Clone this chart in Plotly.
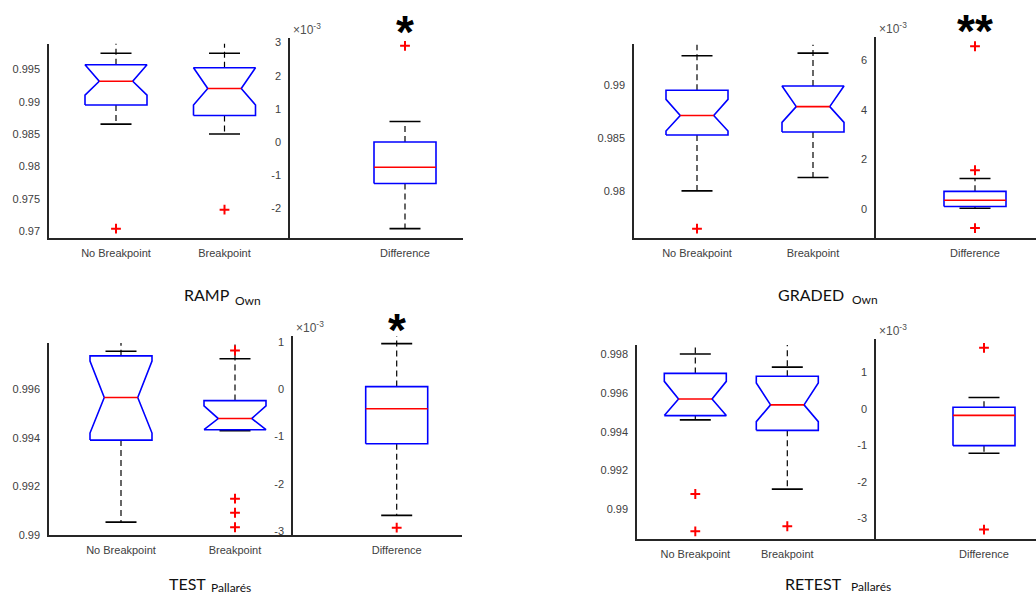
import plotly.graph_objects as go

W, H = 1036, 606

# ---- data -------------------------------------------------------------
panel_titles = ["RAMP", "GRADED", "TEST", "RETEST"]
panel_subtitles = ["Own", "Own", "Pallarés", "Pallarés"]
significance = ["*", "**", "*", ""]

categories = ["No Breakpoint", "Breakpoint"]
diff_category = "Difference"

# No Breakpoint: quartiles, adjacent values, notch limits, outliers
nobp_q1 = [0.98950, 0.98531, 0.99391, 0.99483]
nobp_med = [0.99317, 0.98716, 0.99567, 0.99568]
nobp_q3 = [0.99572, 0.98956, 0.99739, 0.99700]
nobp_lo = [0.98654, 0.98000, 0.99052, 0.99461]
nobp_hi = [0.99749, 0.99283, 0.99758, 0.99800]
nobp_notch_lo = [0.99102, 0.98568, 0.99420, 0.99483]
nobp_notch_hi = [0.99572, 0.98869, 0.99717, 0.99659]
nobp_out = [[0.97037], [0.97641], [], [0.99080, 0.98888]]

# Breakpoint
bp_q1 = [0.98786, 0.98559, 0.99434, 0.99407]
bp_med = [0.99205, 0.98800, 0.99480, 0.99538]
bp_q3 = [0.99526, 0.98996, 0.99554, 0.99685]
bp_lo = [0.98500, 0.98127, 0.99430, 0.99105]
bp_hi = [0.99749, 0.99308, 0.99727, 0.99732]
bp_notch_lo = [0.98950, 0.98650, 0.99434, 0.99452]
bp_notch_hi = [0.99526, 0.98996, 0.99532, 0.99651]
bp_out = [[0.97332], [], [0.99761, 0.99149, 0.99091, 0.99031], [0.98914]]

# Difference (units of 1e-3)
diff_q1 = [-1.25, 0.11, -1.15, -1.00]
diff_med = [-0.76, 0.36, -0.41, -0.17]
diff_q3 = [0.00, 0.72, 0.06, 0.05]
diff_lo = [-2.61, 0.04, -2.67, -1.21]
diff_hi = [0.62, 1.24, 0.97, 0.32]
diff_out = [[2.90], [6.57, 1.57, -0.76], [-2.93], [1.68, -3.30]]

# upper whisker continues past the cap to the axis limit (NB, BP, Diff)
tail_past_top = [[True, True, False], [True, True, False],
                 [True, True, True], [True, True, False]]

# y tick values per panel
left_ticks = [[0.97, 0.975, 0.98, 0.985, 0.99, 0.995],
              [0.98, 0.985, 0.99],
              [0.99, 0.992, 0.994, 0.996],
              [0.99, 0.992, 0.994, 0.996, 0.998]]
left_ticktext = [["0.97", "0.975", "0.98", "0.985", "0.99", "0.995"],
                 ["0.98", "0.985", "0.99"],
                 ["0.99", "0.992", "0.994", "0.996"],
                 ["0.99", "0.992", "0.994", "0.996", "0.998"]]
diff_ticks = [[-2, -1, 0, 1, 2, 3], [0, 2, 4, 6], [-3, -2, -1, 0, 1], [-3, -2, -1, 0, 1]]

# ---- layout geometry (pixels) -------------------------------------------
left_dom_x = [(49, 290), (634, 876), (49, 293), (637, 876)]
diff_dom_x = [(290, 463), (876, 1036), (293, 462), (876, 1036)]
left_dom_y = [(43, 240), (44, 240), (346, 540), (348, 544)]
diff_dom_y = [(37, 240), (36, 240), (339, 540), (342, 544)]
left_centers = [(116, 224.5), (697, 813), (121, 235), (695.3, 787.3)]
diff_centers = [405, 975, 396.7, 984]
left_yrange = [(0.9689, 0.9990), (0.9755, 0.9939), (0.9900, 0.99792), (0.9885, 0.99846)]
diff_yrange = [(-2.9, 3.15), (-1.17, 6.96), (-3.08, 1.13), (-3.55, 1.92)]

BOX_HALF_PX = 31
NOTCH_FRAC = 0.54
BLUE, RED, BLACK = "#0000ff", "#ff0000", "#000000"
AXIS_COLOR = "#262626"
TICK_COLOR = "#404040"
TICK_FONT = dict(family="Liberation Sans, Arial, sans-serif", size=11, color=TICK_COLOR)

fig = go.Figure()
layout = dict(width=W, height=H, margin=dict(l=0, r=0, t=0, b=0),
              paper_bgcolor="white", plot_bgcolor="white", showlegend=False)


def px_dom_x(d):
    return [d[0] / W, d[1] / W]


def px_dom_y(d):
    return [1 - d[1] / H, 1 - d[0] / H]


def line(xr, yr, xs, ys, color, width=1.5, dash="solid"):
    fig.add_trace(go.Scatter(x=xs, y=ys, mode="lines", xaxis=xr, yaxis=yr,
                             line=dict(color=color, width=width, dash=dash),
                             hoverinfo="skip"))


def draw_box(xr, yr, xc, hw, q1, med, q3, lo, hi, outs, top_end,
             nlo=None, nhi=None):
    dash = "6px,4px"
    # whiskers
    line(xr, yr, [xc, xc], [q3, top_end], BLACK, 1.2, dash)
    line(xr, yr, [xc, xc], [q1, lo], BLACK, 1.2, dash)
    # caps
    cw = hw / 2
    line(xr, yr, [xc - cw, xc + cw], [hi, hi], BLACK, 1.6)
    line(xr, yr, [xc - cw, xc + cw], [lo, lo], BLACK, 1.6)
    # box outline
    if nlo is None:
        xs = [xc - hw, xc + hw, xc + hw, xc - hw, xc - hw]
        ys = [q1, q1, q3, q3, q1]
        mw = hw
    else:
        mw = hw * NOTCH_FRAC
        xs = [xc - hw, xc - hw, xc - mw, xc - hw, xc - hw,
              xc + hw, xc + hw, xc + mw, xc + hw, xc + hw, xc - hw]
        ys = [q1, nlo, med, nhi, q3, q3, nhi, med, nlo, q1, q1]
    line(xr, yr, xs, ys, BLUE, 1.6)
    # median
    line(xr, yr, [xc - mw, xc + mw], [med, med], RED, 1.6)
    # outliers
    if outs:
        fig.add_trace(go.Scatter(x=[xc] * len(outs), y=outs, mode="markers",
                                 xaxis=xr, yaxis=yr, hoverinfo="skip",
                                 marker=dict(symbol="cross-thin", size=7, color=RED,
                                             line=dict(color=RED, width=2))))


annotations = []

for i in range(4):
    nL, nD = 2 * i + 1, 2 * i + 2
    kL = "" if nL == 1 else str(nL)
    kD = str(nD)
    xrL, yrL, xrD, yrD = "x" + kL, "y" + kL, "x" + kD, "y" + kD

    # x ranges from pixel geometry
    c1, c2 = left_centers[i]
    ppu = c2 - c1
    a, b = left_dom_x[i]
    xrangeL = [1 - (c1 - a) / ppu, 1 + (b - c1) / ppu]
    cd = diff_centers[i]
    a2, b2 = diff_dom_x[i]
    xrangeD = [1 - (cd - a2) / ppu, 1 + (b2 - cd) / ppu]
    hw = BOX_HALF_PX / ppu

    common_x = dict(showline=True, linecolor=AXIS_COLOR, linewidth=1.5, ticks="",
                    showgrid=False, zeroline=False, tickfont=TICK_FONT,
                    fixedrange=True, ticklabelstandoff=4)
    common_y = dict(showline=True, linecolor=AXIS_COLOR, linewidth=1.5, ticks="",
                    showgrid=False, zeroline=False, tickfont=TICK_FONT,
                    fixedrange=True, ticklabelstandoff=5)

    layout["xaxis" + kL] = dict(domain=px_dom_x(left_dom_x[i]), range=xrangeL,
                                tickvals=[1, 2], ticktext=categories,
                                anchor=yrL, **common_x)
    layout["yaxis" + kL] = dict(domain=px_dom_y(left_dom_y[i]), range=list(left_yrange[i]),
                                tickvals=left_ticks[i], ticktext=left_ticktext[i],
                                anchor=xrL, **common_y)
    layout["xaxis" + kD] = dict(domain=px_dom_x(diff_dom_x[i]), range=xrangeD,
                                tickvals=[1], ticktext=[diff_category],
                                anchor=yrD, **common_x)
    layout["yaxis" + kD] = dict(domain=px_dom_y(diff_dom_y[i]), range=list(diff_yrange[i]),
                                tickvals=diff_ticks[i],
                                ticktext=[str(v) for v in diff_ticks[i]],
                                anchor=xrD, **common_y)

    topL = left_yrange[i][1]
    topD = diff_yrange[i][1]
    draw_box(xrL, yrL, 1, hw, nobp_q1[i], nobp_med[i], nobp_q3[i], nobp_lo[i], nobp_hi[i],
             nobp_out[i], topL if tail_past_top[i][0] else nobp_hi[i],
             nobp_notch_lo[i], nobp_notch_hi[i])
    draw_box(xrL, yrL, 2, hw, bp_q1[i], bp_med[i], bp_q3[i], bp_lo[i], bp_hi[i],
             bp_out[i], topL if tail_past_top[i][1] else bp_hi[i],
             bp_notch_lo[i], bp_notch_hi[i])
    draw_box(xrD, yrD, 1, hw, diff_q1[i], diff_med[i], diff_q3[i], diff_lo[i], diff_hi[i],
             diff_out[i], topD if tail_past_top[i][2] else diff_hi[i])

    # exponent label of the difference axis
    annotations.append(dict(text="×10<sup>-3</sup>", xref="paper", yref="paper",
                            x=(diff_dom_x[i][0] + 1) / W, y=1 - (diff_dom_y[i][0] - 9) / H,
                            xanchor="left", yanchor="middle", showarrow=False,
                            font=dict(family="Liberation Sans, Arial", size=12, color="#505050")))

    # significance marker above the difference box
    if significance[i]:
        annotations.append(dict(text=significance[i], xref=xrD, yref="paper",
                                x=1, y=1 - (diff_dom_y[i][0] - 6) / H,
                                xanchor="center", yanchor="middle", showarrow=False,
                                font=dict(family="Liberation Sans, Arial", size=46,
                                          color="black", weight="bold")))

# panel titles with subscripts
title_pos = [(182, 297), (776, 297), (166.7, 589.5), (782.7, 589)]
sub_pos = [(233, 302.5), (850, 302), (209.3, 593.5), (849.3, 592.5)]
for i in range(4):
    annotations.append(dict(text=panel_titles[i], xref="paper", yref="paper",
                            x=title_pos[i][0] / W, y=1 - title_pos[i][1] / H,
                            xanchor="left", yanchor="middle", showarrow=False,
                            font=dict(family="Lato, Open Sans", size=16, color="#111111")))
    annotations.append(dict(text=panel_subtitles[i], xref="paper", yref="paper",
                            x=sub_pos[i][0] / W, y=1 - sub_pos[i][1] / H,
                            xanchor="left", yanchor="middle", showarrow=False,
                            font=dict(family="Lato, Open Sans", size=12, color="#111111")))

layout["annotations"] = annotations
fig.update_layout(**layout)
fig.write_html("out.html")
